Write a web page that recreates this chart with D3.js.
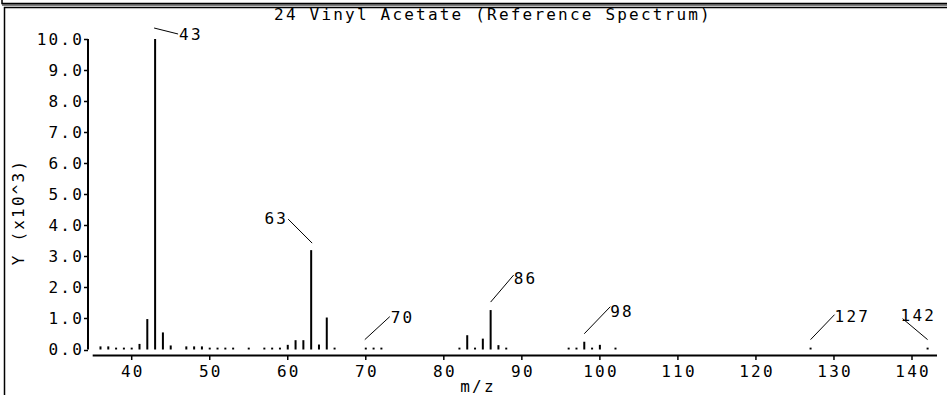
<!DOCTYPE html>
<html>
<head>
<meta charset="utf-8">
<script src="https://cdn.jsdelivr.net/npm/d3@7"></script>
<style>
  body { margin: 0; background: #fff; }
  svg { display: block; }
  text { font-family: "DejaVu Sans Mono", monospace; font-size: 16px; letter-spacing: 2.2px; fill: #000; }
</style>
</head>
<body>
<svg></svg>
<script>
const title = "24 Vinyl Acetate (Reference Spectrum)";
const xLabel = "m/z";
const yLabel = "Y (x10^3)";

// m/z of each peak and its intensity
const mz = [36, 37, 38, 39, 40, 41, 42, 43, 44, 45, 47, 48, 49, 50, 51, 52, 53, 55,
  57, 58, 59, 60, 61, 62, 63, 64, 65, 66, 70, 71, 72, 82, 83, 84, 85, 86, 87, 88,
  96, 97, 98, 99, 100, 102, 127, 142];
const intensity = [100, 100, 60, 60, 60, 180, 980, 10000, 550, 130, 100, 100, 100, 60, 60, 60, 60, 60,
  60, 60, 60, 150, 300, 300, 3200, 160, 1030, 60, 60, 60, 60, 60, 460, 60, 350, 1270, 140, 60,
  60, 60, 250, 60, 150, 60, 60, 60];

const labelled = [43, 63, 70, 86, 98, 127, 142];
const xTicks = [40, 50, 60, 70, 80, 90, 100, 110, 120, 130, 140];
const yTicks = [0, 1000, 2000, 3000, 4000, 5000, 6000, 7000, 8000, 9000, 10000];

const width = 947, height = 395;

const svg = d3.select("svg").attr("width", width).attr("height", height);

// frame left over from the page layout
svg.append("rect").attr("x", 2).attr("y", -10).attr("width", 960).attr("height", 13.5)
  .attr("fill", "none").attr("stroke", "#000").attr("stroke-width", 1.5);
svg.append("line").attr("x1", 2).attr("x2", 947).attr("y1", 5).attr("y2", 5)
  .attr("stroke", "#000").attr("stroke-width", 1);
svg.append("rect").attr("x", 4.5).attr("y", 7.5).attr("width", 960).attr("height", 400)
  .attr("fill", "none").attr("stroke", "#000").attr("stroke-width", 1.5);

const x = d3.scaleLinear().domain([40, 140]).range([131.7, 912]);
const y = d3.scaleLinear().domain([0, 10000]).range([349.5, 39]);

const peaks = mz.map((m, i) => ({ mz: m, value: intensity[i] }));

svg.append("text")
  .attr("x", 493)
  .attr("y", 20)
  .attr("text-anchor", "middle")
  .text(title);

// y axis
const ya = svg.append("g");
ya.append("line").attr("x1", 88).attr("x2", 88).attr("y1", y(10000)).attr("y2", y(0))
  .attr("stroke", "#000").attr("stroke-width", 2);
ya.selectAll(".yt").data(yTicks).enter().append("line")
  .attr("x1", 84).attr("x2", 88)
  .attr("y1", (d) => Math.round(y(d)) + 0.5)
  .attr("y2", (d) => Math.round(y(d)) + 0.5)
  .attr("stroke", "#000").attr("stroke-width", 1.5);
ya.selectAll(".yl").data(yTicks).enter().append("text")
  .attr("x", 84)
  .attr("y", (d) => y(d))
  .attr("dy", "0.36em")
  .attr("text-anchor", "end")
  .text((d) => (d / 1000).toFixed(1));

svg.append("text")
  .attr("transform", "translate(24,212) rotate(-90)")
  .attr("text-anchor", "middle")
  .text(yLabel);

// x axis
const xa = svg.append("g");
xa.append("line").attr("x1", x(35)).attr("x2", 937).attr("y1", 355.5).attr("y2", 355.5)
  .attr("stroke", "#000").attr("stroke-width", 2);
xa.selectAll(".xt").data(xTicks).enter().append("line")
  .attr("x1", (d) => x(d)).attr("x2", (d) => x(d))
  .attr("y1", 355).attr("y2", 360)
  .attr("stroke", "#000").attr("stroke-width", 1.5);
xa.selectAll(".xl").data(xTicks).enter().append("text")
  .attr("x", (d) => x(d) + 1.1)
  .attr("y", 377)
  .attr("text-anchor", "middle")
  .text((d) => d);

svg.append("text")
  .attr("x", 478)
  .attr("y", 392)
  .attr("text-anchor", "middle")
  .text(xLabel);

// peaks
svg.append("g").selectAll("rect").data(peaks).enter().append("rect")
  .attr("x", (d) => x(d.mz) - 1)
  .attr("y", (d) => y(d.value))
  .attr("width", 2)
  .attr("height", (d) => y(0) - y(d.value))
  .attr("fill", "#000");

// leader line offsets from peak top: [line start dx, dy, line end dx, dy, text side]
const leader = {
  43: [-1, -11, 23, -5, "start"],
  63: [1, -7, -23, -31, "end"],
  70: [-1, -8, 24, -31, "start"],
  86: [0, -8, 23, -35, "start"],
  98: [0, -8, 26, -35, "start"],
  127: [0, -8, 24, -33, "start"],
  142: [0, -8, -25, -29, "start"],
};
const textShift = {
  43: [1, 0], 63: [-2, -1], 70: [1, 1], 86: [0, 3], 98: [0, 5], 127: [0, 2], 142: [-2, -3],
};

const lab = svg.append("g").selectAll("g")
  .data(peaks.filter((d) => labelled.includes(d.mz)))
  .enter().append("g");

lab.append("line")
  .attr("x1", (d) => x(d.mz) + leader[d.mz][0])
  .attr("y1", (d) => y(d.value) + leader[d.mz][1])
  .attr("x2", (d) => x(d.mz) + leader[d.mz][2])
  .attr("y2", (d) => y(d.value) + leader[d.mz][3])
  .attr("stroke", "#000").attr("stroke-width", 1);

lab.append("text")
  .attr("x", (d) => x(d.mz) + leader[d.mz][2] + textShift[d.mz][0] + (leader[d.mz][4] === "end" ? 2 : 0))
  .attr("y", (d) => y(d.value) + leader[d.mz][3] + textShift[d.mz][1])
  .attr("dy", "0.36em")
  .attr("text-anchor", (d) => leader[d.mz][4])
  .text((d) => d.mz);
</script>
</body>
</html>
